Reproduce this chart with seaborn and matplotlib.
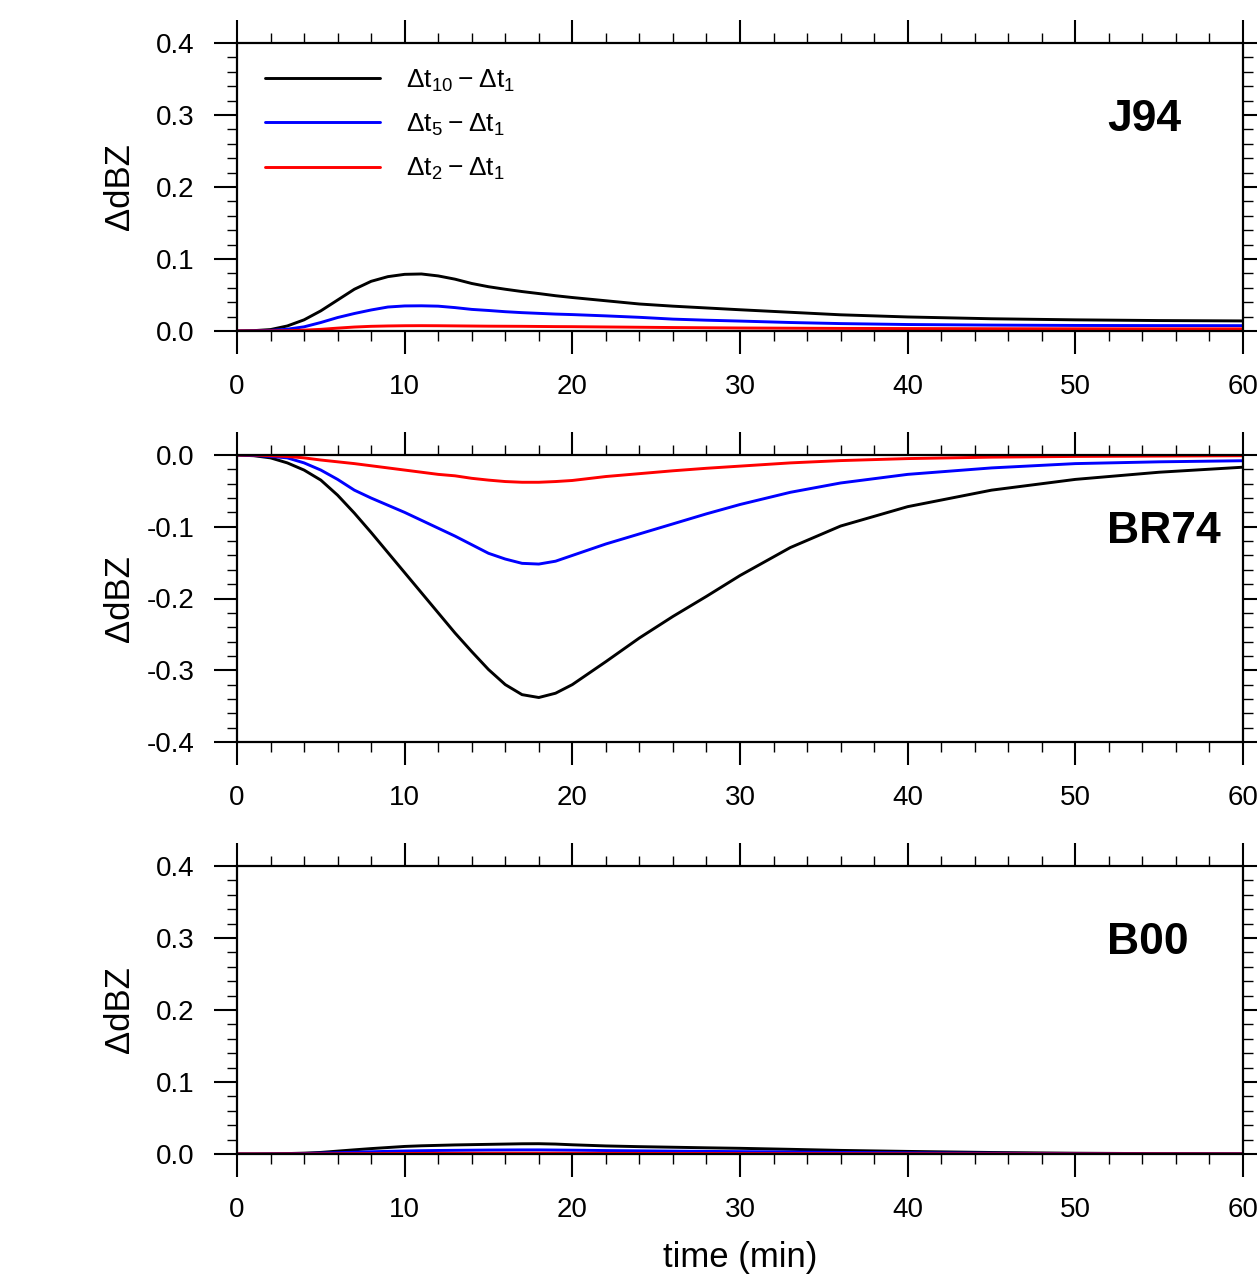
import numpy as np
import pandas as pd
import matplotlib
matplotlib.use("Agg")
import matplotlib.pyplot as plt
import seaborn as sns
from matplotlib.ticker import MultipleLocator, FormatStrFormatter

# ----------------------
# Data
# ----------------------
time = [0, 1, 2, 3, 4, 5, 6, 7, 8, 9, 10, 11, 12, 13, 14, 15, 16, 17, 18, 19,
        20, 22, 24, 26, 28, 30, 33, 36, 40, 45, 50, 55, 60]

series_labels = ['$\\Delta t_{10}$\u2009\u2212\u2009$\\Delta t_1$',
                 '$\\Delta t_5$\u2009\u2212\u2009$\\Delta t_1$',
                 '$\\Delta t_2$\u2009\u2212\u2009$\\Delta t_1$']
series_colors = ['black', 'blue', 'red']

# J94
j94_dt10 = [0, 0.0005, 0.002, 0.007, 0.0155, 0.028, 0.043, 0.058, 0.069, 0.0755,
            0.0787, 0.0792, 0.0765, 0.072, 0.066, 0.0615, 0.058, 0.0548, 0.052, 0.049,
            0.0465, 0.042, 0.0375, 0.0345, 0.032, 0.0295, 0.026, 0.0225, 0.0195, 0.017,
            0.0155, 0.0145, 0.014]
j94_dt5 = [0, 0.0002, 0.0008, 0.0025, 0.0058, 0.0118, 0.0187, 0.0243, 0.0292, 0.0333,
           0.0348, 0.035, 0.0345, 0.0325, 0.030, 0.0285, 0.0268, 0.0255, 0.0245, 0.0235,
           0.0228, 0.021, 0.019, 0.0165, 0.015, 0.0138, 0.0118, 0.0103, 0.009, 0.0082,
           0.0077, 0.0075, 0.0074]
j94_dt2 = [0, 0, 0.0001, 0.0004, 0.0012, 0.0023, 0.004, 0.0055, 0.0065, 0.007,
           0.0073, 0.0074, 0.0073, 0.0071, 0.0069, 0.0067, 0.0066, 0.0065, 0.0063, 0.0061,
           0.006, 0.0056, 0.0052, 0.0048, 0.0045, 0.0042, 0.0039, 0.0036, 0.0034, 0.0032,
           0.0031, 0.003, 0.003]

# BR74
br74_dt10 = [0, -0.001, -0.004, -0.011, -0.021, -0.035, -0.056, -0.081, -0.108, -0.136,
             -0.164, -0.192, -0.22, -0.248, -0.274, -0.299, -0.32, -0.334, -0.338, -0.332,
             -0.32, -0.288, -0.255, -0.225, -0.197, -0.168, -0.129, -0.099, -0.072, -0.049,
             -0.034, -0.024, -0.017]
br74_dt5 = [0, -0.0005, -0.002, -0.004, -0.011, -0.021, -0.034, -0.049, -0.06, -0.07,
            -0.08, -0.091, -0.102, -0.113, -0.125, -0.137, -0.145, -0.151, -0.152, -0.148,
            -0.140, -0.124, -0.110, -0.096, -0.082, -0.069, -0.052, -0.039, -0.027, -0.018,
            -0.012, -0.0095, -0.008]
br74_dt2 = [0, 0, -0.001, -0.002, -0.004, -0.007, -0.0095, -0.012, -0.015, -0.018,
            -0.021, -0.024, -0.027, -0.029, -0.0325, -0.035, -0.037, -0.038, -0.038, -0.037,
            -0.0355, -0.030, -0.026, -0.022, -0.0185, -0.0155, -0.011, -0.0078, -0.005, -0.003,
            -0.002, -0.0015, -0.001]

# B00
b00_dt10 = [0, 0, 0.0002, 0.0006, 0.0012, 0.0022, 0.004, 0.0058, 0.0075, 0.009,
            0.0105, 0.0114, 0.012, 0.0126, 0.013, 0.0134, 0.0138, 0.0142, 0.0143, 0.0138,
            0.0128, 0.0112, 0.0102, 0.0094, 0.0086, 0.0079, 0.0065, 0.005, 0.0036, 0.0021,
            0.0011, 0.0005, 0.0002]
b00_dt5 = [0, 0, 0.0001, 0.0003, 0.0007, 0.0012, 0.0018, 0.0025, 0.0031, 0.0037,
           0.0042, 0.0046, 0.0049, 0.0051, 0.0053, 0.0055, 0.0056, 0.0057, 0.0057, 0.0055,
           0.0053, 0.0048, 0.0044, 0.004, 0.0036, 0.0033, 0.0028, 0.0022, 0.0016, 0.001,
           0.0005, 0.0002, 0.0001]
b00_dt2 = [0, 0, 0, 0.0001, 0.0001, 0.0002, 0.0003, 0.0004, 0.0005, 0.0006,
           0.0007, 0.0008, 0.0009, 0.0009, 0.001, 0.001, 0.0011, 0.0011, 0.0011, 0.0011,
           0.001, 0.0009, 0.0008, 0.0007, 0.0007, 0.0006, 0.0005, 0.0004, 0.0003, 0.0002,
           0.0001, 0.0001, 0]

panels = [
    ('J94', [j94_dt10, j94_dt5, j94_dt2], (0.0, 0.4)),
    ('BR74', [br74_dt10, br74_dt5, br74_dt2], (-0.4, 0.0)),
    ('B00', [b00_dt10, b00_dt5, b00_dt2], (0.0, 0.4)),
]

# ----------------------
# Style
# ----------------------
sns.set_style('ticks')
plt.rcParams['font.family'] = ['Liberation Sans', 'DejaVu Sans']
plt.rcParams['mathtext.fontset'] = 'custom'
plt.rcParams['mathtext.rm'] = 'Liberation Sans'
plt.rcParams['mathtext.default'] = 'regular'
plt.rcParams['axes.unicode_minus'] = False
plt.rcParams['text.color'] = 'black'
plt.rcParams['axes.labelcolor'] = 'black'
plt.rcParams['xtick.color'] = 'black'
plt.rcParams['ytick.color'] = 'black'
plt.rcParams['xtick.labelcolor'] = 'black'
plt.rcParams['ytick.labelcolor'] = 'black'

fig = plt.figure(figsize=(12.57, 12.77), dpi=100)
left, width = 237 / 1257, 1006 / 1257
axes_rects = [
    [left, (1277 - 331) / 1277, width, 288 / 1277],
    [left, (1277 - 742) / 1277, width, 287 / 1277],
    [left, (1277 - 1154) / 1277, width, 288 / 1277],
]

for i, (name, vals, ylim) in enumerate(panels):
    ax = fig.add_axes(axes_rects[i])
    df = pd.DataFrame({
        'time': np.tile(time, 3),
        'value': np.concatenate(vals),
        'series': np.repeat(series_labels, len(time)),
    })
    sns.lineplot(data=df, x='time', y='value', hue='series', hue_order=series_labels,
                 palette=series_colors, linewidth=2.1, ax=ax, legend=(i == 0))

    ax.set_xlim(0, 60)
    ax.set_ylim(*ylim)
    ax.xaxis.set_major_locator(MultipleLocator(10))
    ax.xaxis.set_minor_locator(MultipleLocator(2))
    ax.yaxis.set_major_locator(MultipleLocator(0.1))
    ax.yaxis.set_minor_locator(MultipleLocator(0.02))
    ax.yaxis.set_major_formatter(FormatStrFormatter('%.1f'))
    ax.tick_params(which='both', direction='out', top=True, right=True,
                   labeltop=False, labelright=False, color='black')
    ax.tick_params(which='major', length=16.5, width=1.5, labelsize=20)
    ax.tick_params(axis='x', which='major', pad=14.5)
    ax.tick_params(axis='y', which='major', pad=14)
    ax.tick_params(which='minor', length=7.2, width=1.0)
    for sp in ax.spines.values():
        sp.set_visible(True)
        sp.set_linewidth(1.6)
        sp.set_color('black')

    ax.set_ylabel('\u0394dBZ', fontsize=25)
    ax.yaxis.set_label_coords(-0.1, 0.5)
    if i == 2:
        ax.set_xlabel('time (min)', fontsize=25)
        ax.xaxis.set_label_coords(0.5, -0.302)
    else:
        ax.set_xlabel('')

    ax.text(0.8648, 0.693, name, transform=ax.transAxes, fontsize=32,
            fontweight='bold', ha='left', va='baseline', color='black')

    if i == 0:
        sns.move_legend(ax, loc='upper left', bbox_to_anchor=(0.0278, 0.915),
                        frameon=False, title=None, fontsize=19, handlelength=4.36,
                        handletextpad=1.0, labelspacing=0.68, borderpad=0,
                        borderaxespad=0)
        for line in ax.get_legend().get_lines():
            line.set_linewidth(2.1)

fig.savefig('out.png', dpi=100)
